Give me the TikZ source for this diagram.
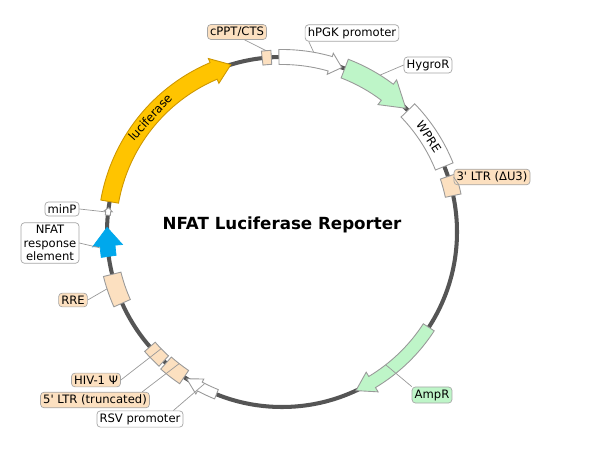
\documentclass[tikz,border=0pt]{standalone}
\usepackage{fontspec}
\setmainfont{DejaVu Sans}
\usetikzlibrary{positioning}

\definecolor{lucif}{RGB}{255,196,0}
\definecolor{lucifdk}{RGB}{205,150,0}
\definecolor{hygro}{RGB}{190,245,200}
\definecolor{tan}{RGB}{252,224,192}
\definecolor{nfat}{RGB}{0,168,236}
\definecolor{ring}{RGB}{85,85,85}

\newcommand\R{3.5}
% clockwise arrow: start, end, head angle, half width, head half width, style
\newcommand\plasarrow[6]{%
\draw[#6] (#1:{\R+#4}) arc[start angle=#1, end angle={#2+#3}, radius={\R+#4}]
 -- ({#2+#3}:{\R+#5}) -- (#2:\R) -- ({#2+#3}:{\R-#5}) -- ({#2+#3}:{\R-#4})
 arc[start angle={#2+#3}, end angle=#1, radius={\R-#4}] -- cycle;}
% box: start, end, half width, style
\newcommand\plasbox[4]{%
\draw[#4] (#1:{\R+#3}) arc[start angle=#1, end angle=#2, radius={\R+#3}]
 -- (#2:{\R-#3}) arc[start angle=#2, end angle=#1, radius={\R-#3}] -- cycle;}

\tikzset{
  lbl/.style={draw=gray!70, rounded corners=2pt, inner sep=1.5pt, fill=white,
    font=\fontsize{6.6}{7.6}\selectfont},
  tanlbl/.style={lbl, fill=tan},
  grnlbl/.style={lbl, fill=hygro},
  feat/.style={draw=gray!80, line width=0.5pt},
  pin/.style={gray!80, line width=0.4pt}
}

\begin{document}
\begin{tikzpicture}
\useasboundingbox (0,0) rectangle (12,9);

\begin{scope}[shift={(5.64,4.36)}]
%backbone
\draw[ring, line width=2.3pt] (0,0) circle (\R);
%features
\plasarrow{170}{107}{6}{0.18}{0.27}{feat, fill=lucif, draw=lucifdk}
\plasbox{96.5}{93.5}{0.14}{feat, fill=tan}
\plasarrow{91}{70}{4}{0.15}{0.22}{feat, fill=white}
\plasarrow{69}{45}{8}{0.2}{0.31}{feat, fill=hygro}
\plasbox{44}{22}{0.19}{feat, fill=white}
\plasbox{18.5}{12}{0.16}{feat, fill=tan}
\plasarrow{-33}{-65}{6}{0.13}{0.23}{feat, fill=hygro}
\plasarrow{-112}{-123}{5}{0.1}{0.17}{feat, fill=white}
\plasbox{-124}{-131.5}{0.16}{feat, fill=tan}
\plasbox{-132.5}{-139}{0.14}{feat, fill=tan}
\plasbox{-156}{-166}{0.18}{feat, fill=tan}
\plasarrow{174.5}{172}{1.2}{0.05}{0.08}{feat, fill=white}
%blue arrow (crosses 180)
\draw[fill=nfat, draw=nfat] (188:{\R+0.15}) arc[start angle=188, end angle=184.5, radius={\R+0.15}]
 -- (184.5:{\R+0.3}) -- (178.5:\R) -- (184.5:{\R-0.3}) -- (184.5:{\R-0.15})
 arc[start angle=184.5, end angle=188, radius={\R-0.15}] -- cycle;
%feature texts
\node[rotate=48, font=\fontsize{6.8}{8}\selectfont] at (139:\R) {luciferase};
\node[rotate=-57, font=\fontsize{6.8}{8}\selectfont] at (33:\R) {WPRE};
%pin points
\coordinate (cppt) at (95:{\R+0.14});
\coordinate (hpgk) at (80:{\R+0.15});
\coordinate (hygr) at (58:{\R+0.2});
\coordinate (ltr3) at (15:{\R+0.16});
\coordinate (ampr) at (-52:{\R-0.13});
\coordinate (rsv) at (-117:{\R-0.1});
\coordinate (ltr5) at (-128:{\R-0.16});
\coordinate (hiv) at (-136:{\R-0.14});
\coordinate (rre) at (-162:{\R+0.18});
\coordinate (nfre) at (185:{\R+0.15});
\coordinate (minp) at (173.5:{\R+0.06});
\end{scope}

%labels
\node[tanlbl] (lcppt) at (4.74,8.36) {cPPT/CTS};
\node[lbl] (lhpgk) at (7.04,8.34) {hPGK promoter};
\node[lbl] (lhygr) at (8.56,7.70) {HygroR};
\node[tanlbl] (lltr3) at (9.84,5.46) {3\textquotesingle{} LTR (ΔU3)};
\node[grnlbl] (lampr) at (8.64,1.10) {AmpR};
\node[lbl] (lrsv) at (2.80,0.62) {RSV promoter};
\node[tanlbl] (lltr5) at (1.90,1.00) {5\textquotesingle{} LTR (truncated)};
\node[tanlbl] (lhiv) at (1.92,1.40) {HIV-1 Ψ};
\node[tanlbl] (lrre) at (1.46,3.00) {RRE};
\node[lbl, align=center] (lnfre) at (1.00,4.14) {NFAT\\response\\element};
\node[lbl] (lminp) at (1.24,4.82) {minP};
\node[font=\bfseries\fontsize{9.5}{11}\selectfont] (title) at (5.64,4.5) {NFAT Luciferase Reporter};

%pins
\draw[pin] (lcppt.south) ++(0.15,0) -- (cppt);
\draw[pin] (lhpgk.south west) ++(0.08,0) -- (hpgk);
\draw[pin] (lhygr.west) -- (hygr);
\draw[pin] (lltr3.west) -- (ltr3);
\draw[pin] (lampr.north west) -- (ampr);
\draw[pin] (lrsv.north east) ++(-0.2,0) -- (rsv);
\draw[pin] (lltr5.north east) ++(-0.15,0) -- (ltr5);
\draw[pin] (lhiv.east) -- (hiv);
\draw[pin] (lrre.east) -- (rre);
\draw[pin] (lnfre.east) -- (nfre);
\draw[pin] (lminp.east) -- (minp);
\end{tikzpicture}
\end{document}
